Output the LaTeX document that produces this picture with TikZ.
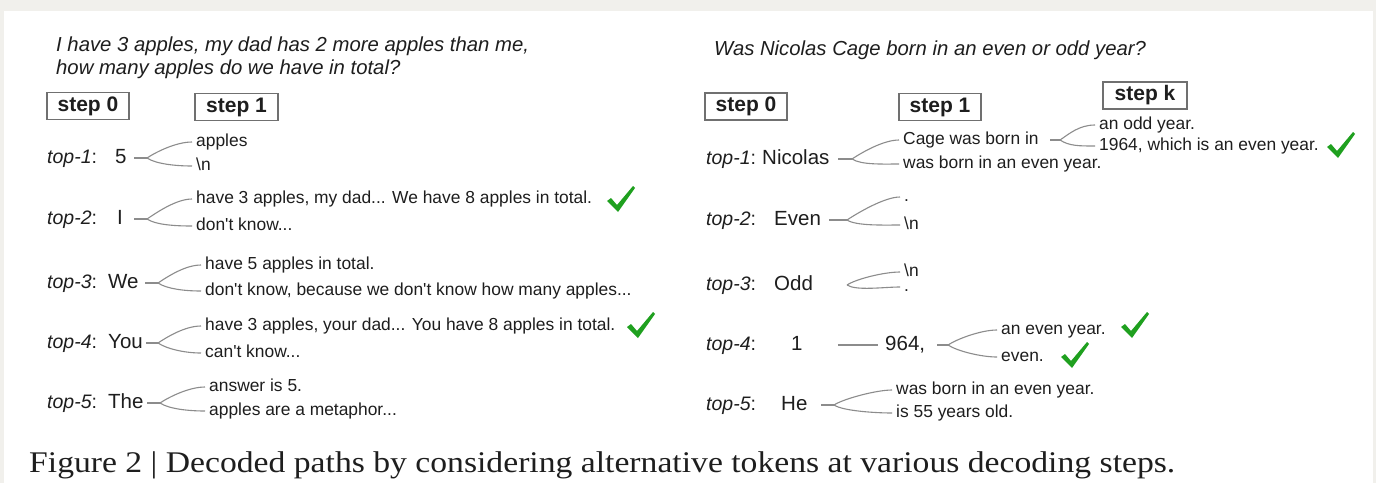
\documentclass[tikz,border=0pt]{standalone}
\usepackage{fontspec}
\usepackage{graphicx}
\setmainfont{Liberation Sans}
\newfontfamily\capfont{Liberation Serif}
\definecolor{ink}{HTML}{1E1E1E}
\definecolor{linec}{HTML}{8C8C8C}
\definecolor{boxc}{HTML}{707070}
\definecolor{bgc}{HTML}{F1F0EC}
\definecolor{okc}{HTML}{1FA01F}
\newcommand\forkarms[3]{%
  \draw[conn] (#1) .. controls +(9,-6) and +(-16,0) .. ([xshift=-4pt]#2.west);
  \draw[conn] (#1) .. controls +(9,6) and +(-16,0) .. ([xshift=-4pt]#3.west);}
\begin{document}
\begin{tikzpicture}[x=1pt,y=-1pt,
  txt/.style={anchor=west,inner sep=0pt,text height=12.5pt,text depth=4.5pt,font=\fontsize{17.4}{20}\selectfont,text=ink},
  lab/.style={anchor=west,inner sep=0pt,text height=15pt,text depth=5pt,font=\fontsize{20.5}{24}\selectfont,text=ink},
  toplab/.style={lab,font=\fontsize{19.5}{23}\selectfont},
  ques/.style={lab,font=\fontsize{20.3}{24}\selectfont\itshape},
  stepbox/.style={draw=boxc,line width=1.3pt,minimum height=27pt,inner sep=0pt,text=ink,font=\fontsize{21}{24}\selectfont\bfseries},
  conn/.style={draw=linec,line width=1.1pt},
  chk/.pic={\fill[okc] (0,15) -- (4,12) -- (10,19) -- (26,0) -- (28,2) -- (11,26) -- cycle;}
]
\useasboundingbox (0,0) rectangle (1376,483);
\fill[bgc] (0,0) rectangle (1376,483);
\fill[white] (4,11) rectangle (1373,483);

% ---------------- left panel ----------------
\node[ques] (qa) at (56,46) {I have 3 apples, my dad has 2 more apples than me,};
\node[ques] (qb) at (56,69) {how many apples do we have in total?};
\node[stepbox,minimum width=82pt] (ls0) at (88,106) {step 0};
\node[stepbox,minimum width=83pt] (ls1) at (236.5,107) {step 1};

\node[toplab] (l1) at (47,158) {\textit{top-1}:};
\node[toplab] (l2) at (47,219) {\textit{top-2}:};
\node[toplab] (l3) at (47,283) {\textit{top-3}:};
\node[toplab] (l4) at (47,343) {\textit{top-4}:};
\node[toplab] (l5) at (47,403) {\textit{top-5}:};

\node[lab] (lt1) at (115,158) {5};
\node[lab] (lt2) at (117,219) {I};
\node[lab] (lt3) at (108,283) {We};
\node[lab] (lt4) at (108,343) {You};
\node[lab] (lt5) at (108,403) {The};

\node[txt] (l1a) at (196,142) {apples};
\node[txt] (l1b) at (196,166) {\textbackslash n};
\node[txt] (l2a) at (196,199) {have 3 apples, my dad... We have 8 apples in total.};
\node[txt] (l2b) at (196,226) {don\textquotesingle t know...};
\node[txt] (l3a) at (205,265) {have 5 apples in total.};
\node[txt] (l3b) at (205,291) {don\textquotesingle t know, because we don\textquotesingle t know how many apples...};
\node[txt] (l4a) at (205,326) {have 3 apples, your dad... You have 8 apples in total.};
\node[txt] (l4b) at (205,353) {can\textquotesingle t know...};
\node[txt] (l5a) at (209,387) {answer is 5.};
\node[txt] (l5b) at (209,411) {apples are a metaphor...};

\coordinate (ls1t) at (134,158); \coordinate (lv1) at (147,158);
\coordinate (ls2t) at (134,219); \coordinate (lv2) at (147,219);
\coordinate (ls3t) at (145,283); \coordinate (lv3) at (158,283);
\coordinate (ls4t) at (146,343); \coordinate (lv4) at (158,343);
\coordinate (ls5t) at (147,403); \coordinate (lv5) at (160,403);
\draw[conn] (ls1t) -- (lv1); \forkarms{lv1}{l1a}{l1b}
\draw[conn] (ls2t) -- (lv2); \forkarms{lv2}{l2a}{l2b}
\draw[conn] (ls3t) -- (lv3); \forkarms{lv3}{l3a}{l3b}
\draw[conn] (ls4t) -- (lv4); \forkarms{lv4}{l4a}{l4b}
\draw[conn] (ls5t) -- (lv5); \forkarms{lv5}{l5a}{l5b}

\pic at (607,186) {chk};
\pic at (627,312) {chk};

% ---------------- right panel ----------------
\node[ques] (qr) at (714,50) {Was Nicolas Cage born in an even or odd year?};
\node[stepbox,minimum width=82pt] (rs0) at (746,106.5) {step 0};
\node[stepbox,minimum width=82pt] (rs1) at (940,107) {step 1};
\node[stepbox,minimum width=84pt] (rsk) at (1145,95.5) {step k};

\node[toplab] (r1) at (706,159) {\textit{top-1}:};
\node[toplab] (r2) at (706,220) {\textit{top-2}:};
\node[toplab] (r3) at (706,285) {\textit{top-3}:};
\node[toplab] (r4) at (706,345) {\textit{top-4}:};
\node[toplab] (r5) at (706,405) {\textit{top-5}:};

\node[lab] (rt1) at (762,159) {Nicolas};
\node[lab] (rt2) at (774,220) {Even};
\node[lab] (rt3) at (774,285) {Odd};
\node[lab] (rt4) at (791,345) {1};
\node[lab] (rt4b) at (885,345) {964,};
\node[lab] (rt5) at (781,405) {He};

\node[txt] (r1a) at (903,140) {Cage was born in};
\node[txt] (r1b) at (903,164) {was born in an even year.};
\node[txt] (r1c) at (1099,125) {an odd year.};
\node[txt] (r1d) at (1099,146) {1964, which is an even year.};
\node[txt] (r2a) at (904,197) {.};
\node[txt] (r2b) at (904,225) {\textbackslash n};
\node[txt] (r3a) at (904,272) {\textbackslash n};
\node[txt] (r3b) at (904,287) {.};
\node[txt] (r4a) at (1001,330) {an even year.};
\node[txt] (r4b) at (1001,357) {even.};
\node[txt] (r5a) at (896,390) {was born in an even year.};
\node[txt] (r5b) at (896,413) {is 55 years old.};

\coordinate (rs1t) at (838,159); \coordinate (rv1) at (852,159);
\coordinate (rs1u) at (1050,140); \coordinate (rv1u) at (1060,140);
\coordinate (rs2t) at (829,220); \coordinate (rv2) at (847,220);
\coordinate (rv3) at (847,285);
\coordinate (rs4t) at (937,345); \coordinate (rv4) at (948,345);
\coordinate (rs5t) at (821,405); \coordinate (rv5) at (834,405);

\draw[conn] (rs1t) -- (rv1); \forkarms{rv1}{r1a}{r1b}
\draw[conn] (rs1u) -- (rv1u); \forkarms{rv1u}{r1c}{r1d}
\draw[conn] (rs2t) -- (rv2); \forkarms{rv2}{r2a}{r2b}
\forkarms{rv3}{r3a}{r3b}
\draw[conn] ([xshift=35pt]rt4.east) -- ([xshift=-7pt]rt4b.west);
\draw[conn] (rs4t) -- (rv4); \forkarms{rv4}{r4a}{r4b}
\draw[conn] (rs5t) -- (rv5); \forkarms{rv5}{r5a}{r5b}

\pic at (1327,132) {chk};
\pic at (1121,312) {chk};
\pic at (1061,342) {chk};

% ---------------- caption ----------------
\node[anchor=base west,inner sep=0pt,text=ink,font=\capfont\fontsize{30}{34}\selectfont] (cap) at (29,472)
  {\resizebox{1146pt}{\height}{Figure 2 | Decoded paths by considering alternative tokens at various decoding steps.}};
\end{tikzpicture}
\end{document}
